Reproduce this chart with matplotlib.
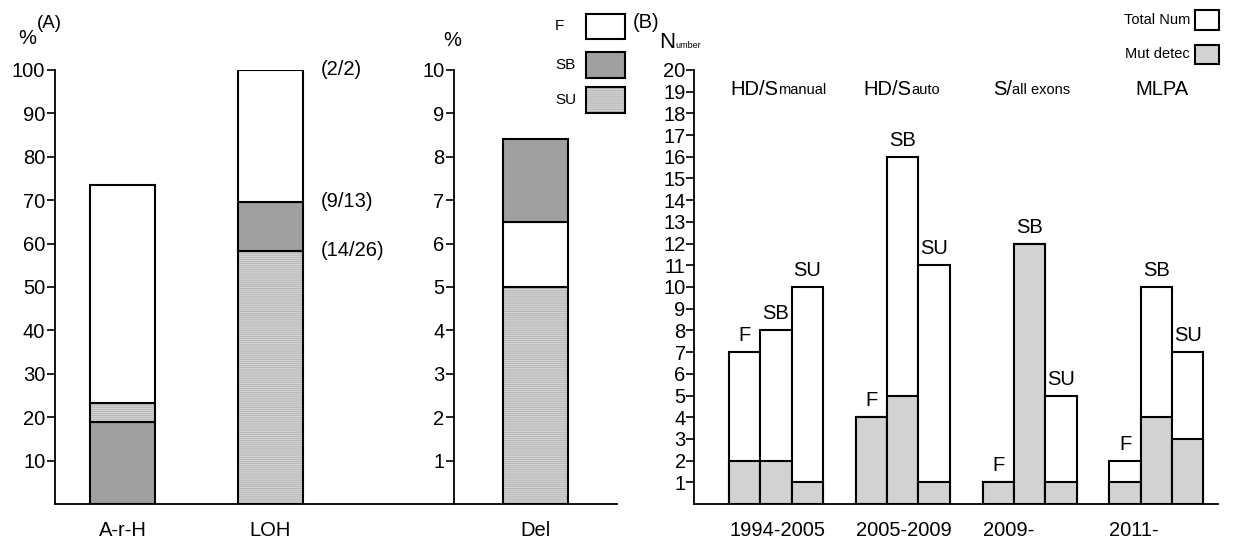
import numpy as np
import matplotlib.pyplot as plt
from matplotlib.patches import Rectangle

plt.rcParams['font.family'] = ['Liberation Sans', 'DejaVu Sans']
plt.rcParams['hatch.linewidth'] = 0.7

# panel A: percentages, stacked from bottom
a_cats = ['A-r-H', 'LOH']
a_layers = {
    'A-r-H': [('SB', 19.0), ('SU', 4.2), ('F', 50.4)],
    'LOH': [('SU', 58.3), ('SB', 11.4), ('F', 30.3)],
}
loh_notes = ['(14/26)', '(9/13)', '(2/2)']
del_cat = 'Del'
del_layers = [('SU', 5.0), ('F', 1.5), ('SB', 1.9)]

# panel B: numbers per group (F, SB, SU)
b_groups = ['1994-2005', '2005-2009', '2009-', '2011-']
b_methods = [('HD/S', 'manual'), ('HD/S', 'auto'), ('S/', 'all exons'), ('MLPA', '')]
b_subtypes = ['F', 'SB', 'SU']
b_total = [[7, 8, 10], [4, 16, 11], [1, 12, 5], [2, 10, 7]]
b_mut = [[2, 2, 1], [4, 5, 1], [1, 12, 1], [1, 4, 3]]

W, H = 1259, 539
fig = plt.figure(figsize=(12.59, 5.39), dpi=100)

fills = {'F': 'white', 'SB': '#a0a0a0', 'SU': '#d6d6d6'}
HATCH_SU = '--------'
HATCH_COL = '#b4b4b4'


def fax(x0, x1, y_top, y_bot):
    return fig.add_axes([x0 / W, 1 - y_bot / H, (x1 - x0) / W, (y_bot - y_top) / H])


def ftext(x, y, s, **kw):
    return fig.text(x / W, 1 - y / H, s, **kw)


def fbox(x0, y0, x1, y1, name=None, color=None):
    xy = (x0 / W, 1 - y1 / H)
    w, h = (x1 - x0) / W, (y1 - y0) / H
    fc = color if color else fills[name]
    fig.add_artist(Rectangle(xy, w, h, transform=fig.transFigure, facecolor=fc, lw=0))
    if name == 'SU':
        fig.add_artist(Rectangle(xy, w, h, transform=fig.transFigure, fill=False,
                                 hatch=HATCH_SU, edgecolor=HATCH_COL, lw=0))
    fig.add_artist(Rectangle(xy, w, h, transform=fig.transFigure, fill=False,
                             edgecolor='black', lw=1.5))


def seg(ax, x, v, bottom, name):
    ax.bar(x, v, 1.0, bottom=bottom, color=fills[name], lw=0)
    if name == 'SU':
        ax.bar(x, v, 1.0, bottom=bottom, fill=False, hatch=HATCH_SU,
               edgecolor=HATCH_COL, lw=0)
    ax.bar(x, v, 1.0, bottom=bottom, fill=False, edgecolor='black', lw=1.5)


def style_axis(ax):
    for s in ['top', 'right']:
        ax.spines[s].set_visible(False)
    ax.spines['left'].set_linewidth(1.3)
    ax.spines['bottom'].set_linewidth(1.3)
    ax.tick_params(axis='y', length=6, width=1.2, labelsize=14.5, pad=1)
    ax.tick_params(axis='x', length=0, labelsize=14.5, pad=12)


# ---- A1
ax1 = fax(55, 617, 70, 504)
style_axis(ax1)
ax1.set_ylim(0, 100)
ax1.set_xlim(0, 8.65)
ax1.set_yticks(range(10, 101, 10))
xa = [1.04, 3.31]
for x, c in zip(xa, a_cats):
    bottom = 0
    for name, v in a_layers[c]:
        seg(ax1, x, v, bottom, name)
        bottom += v
ax1.set_xticks(xa)
ax1.set_xticklabels(a_cats)
cum = np.cumsum([v for _, v in a_layers['LOH']])
for y, note in zip(cum, loh_notes):
    ax1.annotate(note, (xa[1] + 0.5, y), xytext=(13, 0), textcoords='offset points',
                 va='center', fontsize=14.5)

# ---- A2
ax2 = fax(454, 617, 70, 504)
ax2.patch.set_visible(False)
style_axis(ax2)
ax2.spines['bottom'].set_visible(False)
ax2.set_ylim(0, 10)
ax2.set_xlim(0, 2.51)
ax2.set_yticks(range(1, 11))
bottom = 0
for name, v in del_layers:
    seg(ax2, 1.26, v, bottom, name)
    bottom += v
ax2.set_xticks([1.26])
ax2.set_xticklabels([del_cat])

# legend A
for (name, y0, y1) in [('F', 14, 39), ('SB', 52, 78), ('SU', 87, 113)]:
    fbox(586, y0, 625, y1, name)
    ftext(555, (y0 + y1) / 2, name, fontsize=11, va='center', ha='left')

ftext(18, 38, '%', fontsize=14.5, va='center')
ftext(37, 24, '(A)', fontsize=13.5, va='center')
ftext(443, 40, '%', fontsize=14.5, va='center')
ftext(633, 22, '(B)', fontsize=14.5, va='center')
tn = ftext(659, 43, 'N', fontsize=16, va='center')
fig.canvas.draw()
plt.annotate('umber', xy=(1, 0.18), xycoords=tn, fontsize=6.5, va='bottom', ha='left')

# ---- B
ax3 = fax(694, 1218, 70, 504)
style_axis(ax3)
ax3.set_ylim(0, 20)
ax3.set_xlim(0, 16.74)
ax3.set_yticks(range(1, 21))
ax3.tick_params(axis='y', labelsize=14.5, pad=0)
gstart = [1.12 + 4.05 * g for g in range(len(b_groups))]
for g in range(len(b_groups)):
    for j, sub in enumerate(b_subtypes):
        x = gstart[g] + j + 0.5
        ax3.bar(x, b_total[g][j], 1.0, facecolor='white', edgecolor='black', lw=1.5)
        ax3.bar(x, b_mut[g][j], 1.0, facecolor='#d2d2d2', edgecolor='black', lw=1.5)
        ax3.annotate(sub, (x, max(b_total[g][j], b_mut[g][j])), xytext=(0, 5),
                     textcoords='offset points', ha='center', va='bottom', fontsize=14.5)
ax3.set_xticks(gstart)
ax3.set_xticklabels(b_groups, ha='left')

meth_x = [1.15, 5.4, 9.55, 14.1]
for x, (big, small) in zip(meth_x, b_methods):
    t = ax3.text(x, 18.85, big, fontsize=14.5, ha='left', va='baseline')
    if small:
        ax3.annotate(small, xy=(1, 0), xycoords=t, fontsize=10.5, ha='left', va='bottom',
                     xytext=(0, 1.5), textcoords='offset points')

# legend B
fbox(1195, 10, 1219, 30, color='white')
fbox(1195, 45, 1219, 64, color='#d2d2d2')
ftext(1190, 20, 'Total Num', fontsize=10.5, ha='right', va='center')
ftext(1190, 54, 'Mut detec', fontsize=10.5, ha='right', va='center')

fig.savefig('out.png', dpi=100)
